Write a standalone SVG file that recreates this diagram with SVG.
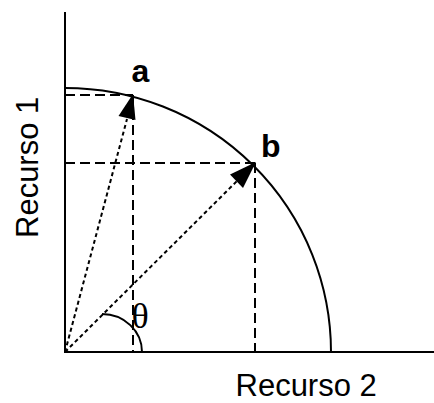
<svg xmlns="http://www.w3.org/2000/svg" width="434" height="403" viewBox="0 0 434 403">
<style>
.ax{stroke:#000;stroke-width:2;fill:none}
.dash{stroke:#000;stroke-width:2;fill:none;stroke-dasharray:10,5}
.dot{stroke:#000;stroke-width:2;fill:none;stroke-dasharray:4,3}
.lbl{font-family:"Liberation Sans",Arial,sans-serif;font-size:31px;fill:#000}
.pt{font-family:"Liberation Sans",Arial,sans-serif;font-size:32px;font-weight:bold;fill:#000}
</style>
<g id="axes">
<line class="ax" x1="65" y1="12" x2="65" y2="353"/>
<line class="ax" x1="64" y1="352" x2="434" y2="352"/>
</g>
<g id="frontier">
<path class="ax" d="M65,88 A266,264 0 0 1 331,352"/>
</g>
<g id="connectors">
<line class="dash" x1="65" y1="95" x2="133" y2="95"/>
<line class="dash" x1="133" y1="95" x2="133" y2="352"/>
<line class="dash" x1="65" y1="163" x2="255" y2="163"/>
<line class="dash" x1="255" y1="163" x2="255" y2="352"/>
<line class="dot" x1="65" y1="352" x2="127" y2="119"/>
<path d="M133,94 L118.5,116 L135.5,120 Z" fill="#000"/>
<line class="dot" x1="65" y1="352" x2="238" y2="180"/>
<path d="M256,162 L230,174.5 L243,188 Z" fill="#000"/>
<path class="ax" d="M102,314 A40,38 0 0 1 142,352"/>
</g>
<g id="labels">
<text class="pt" x="131.5" y="81.5">a</text>
<text class="pt" x="261" y="156.5">b</text>
<text x="140" y="328" text-anchor="middle" style="font-family:'Liberation Serif','Times New Roman',serif;font-size:36px">θ</text>
<text class="lbl" x="235.5" y="396">Recurso 2</text>
<text class="lbl" transform="translate(38,238) rotate(-90)">Recurso 1</text>
</g>
</svg>
